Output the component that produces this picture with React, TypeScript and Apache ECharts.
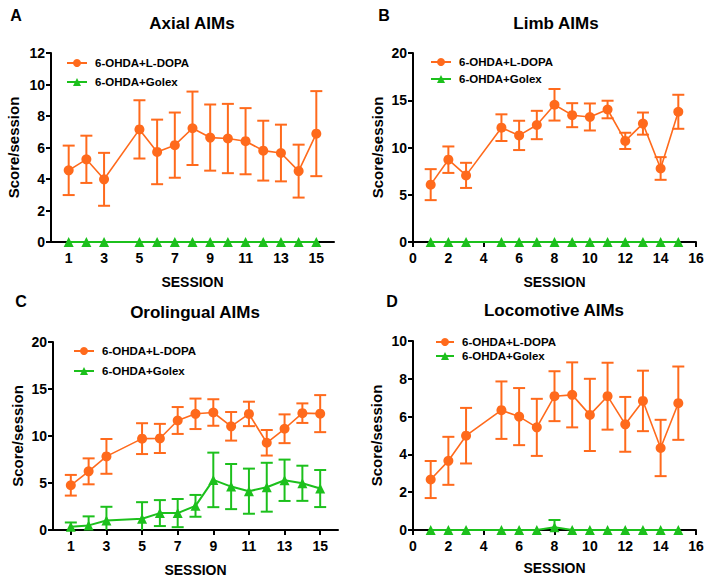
import React, { useEffect, useRef } from "react";
import * as echarts from "echarts";

const sessions = [1, 2, 3, 5, 6, 7, 8, 9, 10, 11, 12, 13, 14, 15];

const axialLdopa = [4.55, 5.25, 3.98, 7.15, 5.72, 6.15, 7.22, 6.63, 6.57, 6.4, 5.8, 5.65, 4.5, 6.88];
const axialLdopaSem = [1.57, 1.5, 1.68, 1.85, 2.05, 2.07, 2.33, 2.1, 2.2, 2.1, 1.9, 1.8, 1.68, 2.7];
const axialGolex = [0, 0, 0, 0, 0, 0, 0, 0, 0, 0, 0, 0, 0, 0];
const axialGolexSem = [0, 0, 0, 0, 0, 0, 0, 0, 0, 0, 0, 0, 0, 0];

const limbLdopa = [6.07, 8.71, 7.05, 12.1, 11.28, 12.38, 14.52, 13.42, 13.23, 14.02, 10.7, 12.53, 7.78, 13.78];
const limbLdopaSem = [1.64, 1.4, 1.33, 1.41, 1.55, 1.5, 1.67, 1.27, 1.43, 0.93, 0.86, 1.17, 1.2, 1.8];
const limbGolex = [0, 0, 0, 0, 0, 0, 0, 0, 0, 0, 0, 0, 0, 0];
const limbGolexSem = [0, 0, 0, 0, 0, 0, 0, 0, 0, 0, 0, 0, 0, 0];

const oroLdopa = [4.76, 6.24, 7.83, 9.72, 9.74, 11.65, 12.36, 12.5, 11.03, 12.35, 9.28, 10.77, 12.43, 12.38];
const oroLdopaSem = [1.1, 1.38, 1.85, 1.64, 1.55, 1.43, 1.62, 1.41, 1.52, 1.3, 1.36, 1.53, 1.04, 1.97];
const oroGolex = [0.35, 0.49, 1.02, 1.2, 1.8, 1.8, 2.57, 5.33, 4.62, 4.13, 4.55, 5.29, 4.97, 4.41];
const oroGolexSem = [0.45, 0.96, 1.45, 1.76, 1.38, 1.5, 1.16, 2.9, 2.4, 2.4, 2.6, 2.2, 1.87, 1.97];

const locoLdopa = [2.67, 3.66, 4.99, 6.34, 6.0, 5.43, 7.08, 7.15, 6.09, 7.08, 5.59, 6.83, 4.34, 6.71];
const locoLdopaSem = [0.98, 1.27, 1.47, 1.52, 1.51, 1.51, 1.32, 1.72, 1.91, 1.77, 1.45, 1.6, 1.49, 1.94];
const locoGolex = [0, 0, 0, 0, 0, 0, 0.14, 0, 0, 0, 0, 0, 0, 0];
const locoGolexSem = [0, 0, 0, 0, 0, 0, 0.39, 0, 0, 0, 0, 0, 0, 0];

const oddTicks = [1, 3, 5, 7, 9, 11, 13, 15];

const panelTitles = ["Axial AIMs", "Limb AIMs", "Orolingual AIMs", "Locomotive AIMs"];
const panelLetters = ["A", "B", "C", "D"];
const seriesNames = ["6-OHDA+L-DOPA", "6-OHDA+Golex"];
const yMax = [12, 20, 20, 10];
const yInterval = [2, 5, 5, 2];

const ORANGE = "#FF6A1C";
const GREEN = "#1CC01C";
const FONT = "'Liberation Sans', Arial, sans-serif";

const panels = [
  { l: axialLdopa, ls: axialLdopaSem, g: axialGolex, gs: axialGolexSem },
  { l: limbLdopa, ls: limbLdopaSem, g: limbGolex, gs: limbGolexSem },
  { l: oroLdopa, ls: oroLdopaSem, g: oroGolex, gs: oroGolexSem },
  { l: locoLdopa, ls: locoLdopaSem, g: locoGolex, gs: locoGolexSem },
];

const grids = [
  { left: 51, top: 53, width: 283, height: 189 },
  { left: 413, top: 53, width: 283, height: 189 },
  { left: 53, top: 342, width: 285, height: 189 },
  { left: 413, top: 341, width: 283, height: 189 },
];
const titlePos = [
  [192, 25],
  [556, 25],
  [195, 314],
  [554, 312],
];
const letterPos = [
  [16, 15],
  [384, 15],
  [21, 301],
  [392, 301],
];
const legendPos = [
  { left: 66, top: 57, itemWidth: 20, itemGap: 7 },
  { left: 430, top: 56, itemWidth: 20, itemGap: 5 },
  { left: 73, top: 345, itemWidth: 20, itemGap: 8 },
  { left: 435, top: 336, itemWidth: 18, itemGap: 2 },
];
const yNameGap = [30, 28, 28, 29];
const xNameGap = [33, 33, 33, 31];

function errorRender(color: string) {
  return (params: any, api: any) => {
    const x = api.value(0);
    const lo = api.value(1);
    const hi = api.value(2);
    if (hi - lo <= 0) return { type: "group", children: [] };
    const pLo = api.coord([x, lo]);
    const pHi = api.coord([x, hi]);
    const hw = 6;
    const style = { stroke: color, lineWidth: 2, fill: "none" };
    return {
      type: "group",
      children: [
        { type: "line", shape: { x1: pLo[0], y1: pLo[1], x2: pHi[0], y2: pHi[1] }, style },
        { type: "line", shape: { x1: pHi[0] - hw, y1: pHi[1], x2: pHi[0] + hw, y2: pHi[1] }, style },
        { type: "line", shape: { x1: pLo[0] - hw, y1: pLo[1], x2: pLo[0] + hw, y2: pLo[1] }, style },
      ],
    };
  };
}

function buildOption() {
  const axisLine = { show: true, lineStyle: { color: "#000", width: 2 } };
  const axisTick = { show: true, inside: false, length: 5, lineStyle: { color: "#000", width: 2 } };
  const labelStyle = { color: "#000", fontSize: 14, fontWeight: "bold" as const, fontFamily: FONT };

  const xAxis: any[] = [];
  const yAxis: any[] = [];
  const series: any[] = [];
  const legend: any[] = [];
  const graphic: any[] = [];
  const title: any[] = [];

  panels.forEach((p, i) => {
    const odd = i === 0 || i === 2;
    const xa: any = {
      type: "value",
      gridIndex: i,
      min: 0,
      max: 16,
      interval: 2,
      name: "SESSION",
      nameLocation: "middle",
      nameGap: xNameGap[i],
      nameTextStyle: { ...labelStyle },
      axisLine,
      axisTick: { ...axisTick },
      axisLabel: { ...labelStyle, margin: 9 },
      splitLine: { show: false },
    };
    if (odd) {
      xa.axisTick.customValues = oddTicks;
      xa.axisLabel.customValues = oddTicks;
    }
    xAxis.push(xa);
    yAxis.push({
      type: "value",
      gridIndex: i,
      min: 0,
      max: yMax[i],
      interval: yInterval[i],
      name: "Score/session",
      nameLocation: "middle",
      nameGap: yNameGap[i],
      nameTextStyle: { ...labelStyle, fontSize: 15 },
      axisLine,
      axisTick,
      axisLabel: { ...labelStyle, margin: 6 },
      splitLine: { show: false },
    });

    series.push({
      type: "custom",
      xAxisIndex: i,
      yAxisIndex: i,
      renderItem: errorRender(GREEN),
      encode: { x: 0, y: [1, 2] },
      data: sessions.map((s, k) => [s, p.g[k] - p.gs[k], p.g[k] + p.gs[k]]),
      clip: true,
      z: 2,
      silent: true,
    });
    series.push({
      type: "custom",
      xAxisIndex: i,
      yAxisIndex: i,
      renderItem: errorRender(ORANGE),
      encode: { x: 0, y: [1, 2] },
      data: sessions.map((s, k) => [s, p.l[k] - p.ls[k], p.l[k] + p.ls[k]]),
      clip: true,
      z: 2,
      silent: true,
    });
    series.push({
      name: seriesNames[1],
      type: "line",
      xAxisIndex: i,
      yAxisIndex: i,
      data: sessions.map((s, k) => [s, p.g[k]]),
      symbol: "triangle",
      symbolSize: 10,
      itemStyle: { color: GREEN },
      lineStyle: { color: GREEN, width: 2 },
      z: 4,
    });
    series.push({
      name: seriesNames[0],
      type: "line",
      xAxisIndex: i,
      yAxisIndex: i,
      data: sessions.map((s, k) => [s, p.l[k]]),
      symbol: "circle",
      symbolSize: 10,
      itemStyle: { color: ORANGE },
      lineStyle: { color: ORANGE, width: 1.6 },
      z: 5,
    });

    const lp = legendPos[i];
    legend.push({
      data: seriesNames,
      orient: "vertical",
      left: lp.left,
      top: lp.top,
      itemWidth: lp.itemWidth,
      itemHeight: 10,
      itemGap: lp.itemGap,
      padding: 0,
      selectedMode: false,
      textStyle: { color: "#000", fontSize: 11.5, fontWeight: "bold", fontFamily: FONT, padding: [0, 0, 0, 3] },
    });

    title.push({
      text: panelTitles[i],
      left: titlePos[i][0],
      top: titlePos[i][1] - 10,
      textAlign: "center",
      padding: 0,
      textStyle: { color: "#000", fontSize: 17, fontWeight: "bold", fontFamily: FONT },
    });

    graphic.push({
      type: "text",
      x: letterPos[i][0],
      y: letterPos[i][1],
      style: {
        text: panelLetters[i],
        fill: "#000",
        font: `bold 16px ${FONT}`,
        align: "center",
        verticalAlign: "middle",
      },
    });
  });

  return {
    animation: false,
    backgroundColor: "#fff",
    grid: grids,
    xAxis,
    yAxis,
    series,
    legend,
    title,
    graphic,
  };
}

export default function App() {
  const ref = useRef<HTMLDivElement>(null);
  useEffect(() => {
    if (!ref.current) return;
    const chart = echarts.init(ref.current, undefined, { renderer: "svg" });
    chart.setOption(buildOption() as any);
    return () => chart.dispose();
  }, []);
  return (
    <div
      ref={ref}
      style={{ position: "fixed", left: 0, top: 0, width: 708, height: 578, background: "#fff" }}
    />
  );
}
